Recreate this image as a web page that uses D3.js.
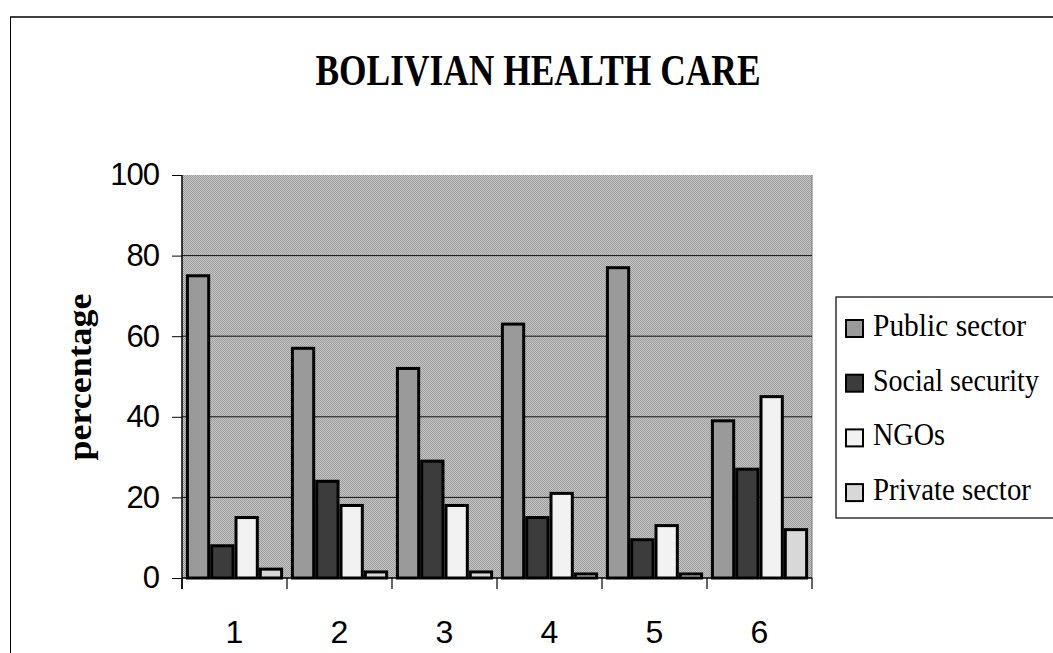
<!DOCTYPE html>
<html><head><meta charset="utf-8">
<script src="https://cdn.jsdelivr.net/npm/d3@7"></script>
<style>body{margin:0;background:#fff}svg{display:block}</style>
</head><body>
<script>
const categories = ["1","2","3","4","5","6"];
const seriesNames = ["Public sector","Social security","NGOs","Private sector"];
const publicSector   = [75, 57, 52, 63, 77, 39];
const socialSecurity = [8, 24, 29, 15, 9.5, 27];
const ngos           = [15, 18, 18, 21, 13, 45];
const privateSector  = [2.2, 1.5, 1.5, 1, 1, 12];
const yTicks = [0,20,40,60,80,100];
const seriesValues = [publicSector, socialSecurity, ngos, privateSector];
const colors = ["#9a9a9a","#3c3c3c","#f2f2f2","#d8d8d8"];
const legendWidths = [153,166,72,158];

const W=1053,H=653;
const serif="Liberation Serif, Times New Roman, serif";
const sans="Liberation Sans, Arial, sans-serif";
const svg=d3.select("body").append("svg").attr("width",W).attr("height",H);
const defs=svg.append("defs");
const pat=defs.append("pattern").attr("id","bg").attr("width",2).attr("height",2).attr("patternUnits","userSpaceOnUse");
pat.append("rect").attr("width",2).attr("height",2).attr("fill","#c6c6c6");
pat.append("rect").attr("width",1).attr("height",1).attr("fill","#9c9c9c");
pat.append("rect").attr("x",1).attr("y",1).attr("width",1).attr("height",1).attr("fill","#9c9c9c");

// outer frame
svg.append("line").attr("x1",10).attr("x2",W).attr("y1",17).attr("y2",17).attr("stroke","#000").attr("stroke-width",1.5);
svg.append("line").attr("x1",10.5).attr("x2",10.5).attr("y1",17).attr("y2",H).attr("stroke","#000").attr("stroke-width",1);

const x0=d3.scaleBand().domain(categories).range([182,812]).paddingInner(0).paddingOuter(0);
const x1=d3.scaleBand().domain(seriesNames).range([0,x0.bandwidth()]).paddingOuter(0.16).paddingInner(0);
const y=d3.scaleLinear().domain([0,100]).range([578,175]);

// plot area
svg.append("rect").attr("x",182).attr("y",y(100)).attr("width",630).attr("height",y(0)-y(100)).attr("fill","url(#bg)");
svg.append("line").attr("x1",812).attr("x2",812).attr("y1",y(100)).attr("y2",y(0)).attr("stroke","#777");

// gridlines
svg.append("g").selectAll("line").data(yTicks.filter(d=>d>0&&d<100)).join("line")
 .attr("x1",182).attr("x2",812).attr("y1",d=>y(d)).attr("y2",d=>y(d)).attr("stroke","#111").attr("stroke-width",1);

// bars
const g=svg.append("g");
categories.forEach((c,i)=>{
  seriesNames.forEach((s,j)=>{
    const v=seriesValues[j][i];
    g.append("rect").attr("x",x0(c)+x1(s)+1.5).attr("y",y(v)).attr("width",x1.bandwidth()-3)
     .attr("height",y(0)-y(v)).attr("fill",colors[j]).attr("stroke","#000").attr("stroke-width",3);
  });
});

// y axis
const ya=svg.append("g").attr("transform","translate(182,0)")
 .call(d3.axisLeft(y).tickValues(yTicks).tickSize(10).tickPadding(13));
ya.select(".domain").attr("stroke","#000").attr("stroke-width",1.5).attr("d","M0,"+y(100)+"V"+(y(0)+11));
ya.selectAll("text").attr("font-family",sans).attr("font-size",31).attr("fill","#000").attr("letter-spacing",-1);
ya.selectAll("line").attr("stroke","#000");

// x axis
const xa=svg.append("g").attr("transform","translate(0,"+y(0)+")")
 .call(d3.axisBottom(x0).tickSize(0).tickPadding(42));
xa.select(".domain").attr("stroke","#000").attr("stroke-width",1.5).attr("d","M182,0H812");
xa.selectAll("text").attr("font-family",sans).attr("font-size",32).attr("fill","#000");
svg.append("g").selectAll("line").data(categories.concat(["end"])).join("line")
 .attr("x1",(d,i)=>i<categories.length?x0(d):x0(categories[categories.length-1])+x0.bandwidth())
 .attr("x2",(d,i)=>i<categories.length?x0(d):x0(categories[categories.length-1])+x0.bandwidth())
 .attr("y1",y(0)).attr("y2",y(0)+11).attr("stroke","#000").attr("stroke-width",1.2);

// titles
svg.append("text").attr("x",538).attr("y",85).attr("text-anchor","middle")
 .attr("font-family",serif).attr("font-weight","bold").attr("font-size",44)
 .attr("textLength",445).attr("lengthAdjust","spacingAndGlyphs").text("BOLIVIAN HEALTH CARE");
svg.append("text").attr("transform","translate(91,377) rotate(-90)").attr("text-anchor","middle")
 .attr("font-family",serif).attr("font-weight","bold").attr("font-size",34)
 .attr("textLength",167).attr("lengthAdjust","spacingAndGlyphs").text("percentage");

// legend
svg.append("rect").attr("x",836).attr("y",297).attr("width",230).attr("height",221).attr("fill","#fff").attr("stroke","#000").attr("stroke-width",1.2);
const lg=svg.append("g");
seriesNames.forEach((s,j)=>{
  const base=336+j*54.7;
  lg.append("rect").attr("x",846).attr("y",base-16).attr("width",17).attr("height",17).attr("fill",colors[j]).attr("stroke","#000").attr("stroke-width",2);
  const t=lg.append("text").attr("x",0).attr("y",0).attr("font-family",serif).attr("font-size",32).text(s);
  const nat=t.node().getComputedTextLength();
  t.attr("transform","translate(873,"+base+") scale("+(legendWidths[j]/nat)+",1)");
});
</script>
</body></html>
